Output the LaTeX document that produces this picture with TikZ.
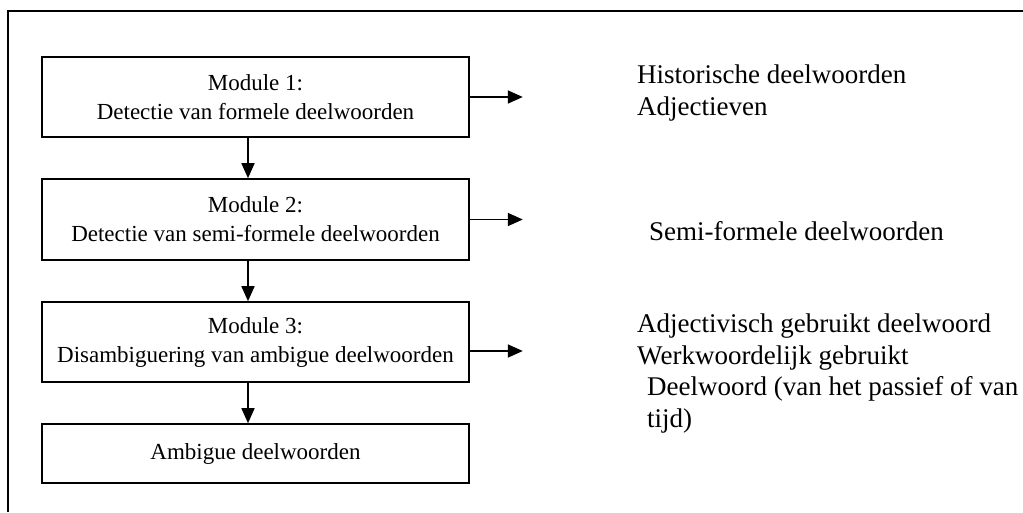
\documentclass[tikz,border=0pt]{standalone}
\usepackage{fontspec}
\setmainfont{Liberation Serif}
\usepackage{tikz}
\usetikzlibrary{arrows.meta}
\tikzset{modbox/.style={draw=black, line width=1.6pt, minimum width=427pt, inner sep=0pt, align=center, font=\fontsize{23}{29}\selectfont}}
\tikzset{outtext/.style={anchor=base west, inner sep=0pt, align=left, font=\fontsize{27}{31.5}\selectfont}}

\begin{document}
\begin{tikzpicture}[x=1pt, y=-1pt, >={Triangle[length=15pt,width=13pt]}]
\useasboundingbox (0,0) rectangle (1023,512);
\draw[black, line width=1.6pt] (8,512) -- (8,11) -- (1023,11);
\node[modbox, minimum height=80pt] (m1) at (255.5,97) {Module 1:\\Detectie van formele deelwoorden};
\node[modbox, minimum height=81pt] (m2) at (255.5,219.5) {Module 2:\\Detectie van semi-formele deelwoorden};
\node[modbox, minimum height=80pt] (m3) at (255.5,342) {Module 3:\\Disambiguering van ambigue deelwoorden};
\node[modbox, minimum height=59pt] (amb) at (255.5,453.5) {Ambigue deelwoorden};
\foreach \a/\b in {m1/m2, m2/m3, m3/amb} \draw[black, line width=1.6pt, ->] ([xshift=-7.5pt]\a.south) -- ([xshift=-7.5pt]\b.north);
\foreach \a/\dy in {m1/0, m2/0, m3/-9} \draw[black, line width=1.6pt, ->] ([yshift=\dy pt]\a.east) --++(53,0);
% the base of a node of several lines is its last line
\node[outtext] (hist) at (637,115) {Historische deelwoorden\\Adjectieven};
\node[outtext] (semi) at (649,240) {Semi-formele deelwoorden};
\node[outtext] (adj) at (637,427) {Adjectivisch gebruikt deelwoord\\Werkwoordelijk gebruikt\\\hspace*{10pt}Deelwoord (van het passief of van\\\hspace*{10pt}tijd)};
\end{tikzpicture}
\end{document}
